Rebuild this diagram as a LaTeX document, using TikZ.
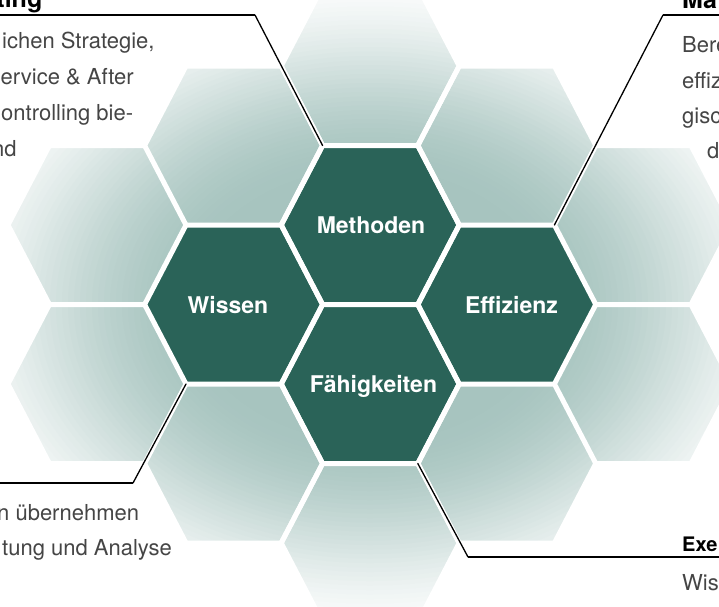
\documentclass[tikz,border=0pt]{standalone}
\usepackage{fontspec}
\setmainfont{TeX Gyre Heros}
\definecolor{hexdark}{HTML}{2A6358}
\definecolor{hexlight}{HTML}{A7C4BF}
\definecolor{textgray}{HTML}{454545}
\def\hexat(#1,#2){(#1-89,#2) -- (#1-47.6,#2-79.5) -- (#1+47.6,#2-79.5) -- (#1+89,#2) -- (#1+47.6,#2+79.5) -- (#1-47.6,#2+79.5) -- cycle}

\begin{document}
\begin{tikzpicture}[x=1pt,y=-1pt,
	hexlabel/.style={text=white,font=\fontsize{23}{23}\selectfont\bfseries,anchor=base,inner sep=0pt},
	bodytext/.style={text=textgray,font=\fontsize{22}{22}\selectfont,anchor=base west,inner sep=0pt},
	headtext/.style={text=black,font=\fontsize{25}{25}\selectfont\bfseries,inner sep=0pt},
	thickrule/.style={line width=2.8pt},
	thinrule/.style={line width=1.3pt,line cap=round}]
			%%%%% START %%%%%
			\useasboundingbox (0,0) rectangle (719,606);
			\fill[white] (0,0) rectangle (719,606);
			
			% light hexagons, fading out from the middle
			\begin{scope}
				\clip \hexat(97,225) \hexat(97,384) \hexat(233.6,145.5) \hexat(233.6,463.5) \hexat(370.2,66) \hexat(370.2,543) \hexat(506.8,145.5) \hexat(506.8,463.5) \hexat(643.4,225) \hexat(643.4,384);
				\foreach \i in {50,49,...,0}{
					\pgfmathsetmacro\xrad{170+6*\i}
					\pgfmathsetmacro\yrad{0.75*\xrad}
					\pgfmathsetmacro\mixp{100*cos(1.8*\i)^2}
					\fill[hexlight!\mixp!white] (370,305) ellipse [x radius=\xrad pt, y radius=\yrad pt];
				}
			\end{scope}
			
			% dark hexagons
			\fill[hexdark] \hexat(233.6,304.5) \hexat(370.2,225) \hexat(370.2,384) \hexat(506.8,304.5);
			
			\draw[white, line width=5pt] \hexat(97,225) \hexat(97,384) \hexat(233.6,145.5) \hexat(233.6,304.5) \hexat(233.6,463.5);
			\draw[white, line width=5pt] \hexat(370.2,66) \hexat(370.2,225) \hexat(370.2,384) \hexat(370.2,543);
			\draw[white, line width=5pt] \hexat(506.8,145.5) \hexat(506.8,304.5) \hexat(506.8,463.5) \hexat(643.4,225) \hexat(643.4,384);
			
			\node[hexlabel] (wiss) at (228,313) {Wissen};
			\node[hexlabel] (meth) at (371,233) {Methoden};
			\node[hexlabel] (faeh) at (373.5,392.5) {Fähigkeiten};
			\node[hexlabel] (effi) at (511.5,313) {Effizienz};
			
			% callouts
			\coordinate (methTL) at (322.6,145.5);
			\coordinate (kneeTL) at (255,15);
			\coordinate (endTL) at (0,15);
			\draw[thinrule] (methTL) -- (kneeTL);
			\draw[thickrule] (kneeTL) -- (endTL);
			
			\coordinate (effiTR) at (554.4,225);
			\coordinate (kneeTR) at (663,15);
			\coordinate (endTR) at (719,15);
			\draw[thinrule] (effiTR) -- (kneeTR);
			\draw[thickrule] (kneeTR) -- (endTR);
			
			\coordinate (wissBL) at (186,384);
			\coordinate (kneeBL) at (133,483);
			\coordinate (endBL) at (0,483);
			\draw[thinrule] (wissBL) -- (kneeBL);
			\draw[thickrule] (kneeBL) -- (endBL);
			
			\coordinate (faehBR) at (417.8,463.5);
			\coordinate (kneeBR) at (468,557);
			\coordinate (endBR) at (719,557);
			\draw[thinrule] (faehBR) -- (kneeBR);
			\draw[thickrule] (kneeBR) -- (endBR);
			
			% texts
			\node[headtext, anchor=base east] (headTL) at (42.5,7.5) {ting};
			\node[bodytext] (bodyTL1) at (2,48) {ichen Strategie,};
			\node[bodytext] (bodyTL2) at (0.5,84) {ervice \& After};
			\node[bodytext] (bodyTL3) at (1,120) {ontrolling bie-};
			\node[bodytext] (bodyTL4) at (-8,156) {nd};
			
			\node[headtext, anchor=base west] (headTR) at (682,8) {Ma};
			\node[bodytext] (bodyTR1) at (682,52) {Bere};
			\node[bodytext] (bodyTR2) at (682,88) {effiz};
			\node[bodytext] (bodyTR3) at (682,123) {gisc};
			\node[bodytext] (bodyTR4) at (707,158) {d};
			
			\node[bodytext] (bodyBL1) at (-3,520) {n übernehmen};
			\node[bodytext] (bodyBL2) at (2,555) {tung und Analyse};
			
			\node[headtext, anchor=base west, font=\fontsize{20}{20}\selectfont\bfseries] (headBR) at (682,551) {Exe};
			\node[bodytext] (bodyBR1) at (682,590) {Wis};
			%%%%% END %%%%%
\end{tikzpicture}
\end{document}
